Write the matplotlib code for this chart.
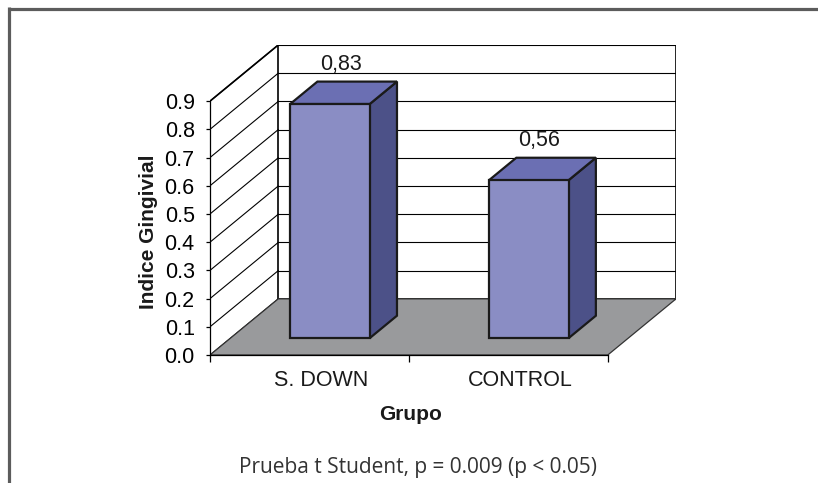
import matplotlib
matplotlib.use("Agg")
import matplotlib.pyplot as plt
from matplotlib.patches import Polygon
from matplotlib.lines import Line2D
import numpy as np

# ---- data ----
categories = ["S. DOWN", "CONTROL"]
values = [0.83, 0.56]
value_labels = ["0,83", "0,56"]
yticks = [0.0, 0.1, 0.2, 0.3, 0.4, 0.5, 0.6, 0.7, 0.8, 0.9]
ytick_labels = ["0.0", "0.1", "0.2", "0.3", "0.4", "0.5", "0.6", "0.7", "0.8", "0.9"]
ylabel = "Indice Gingivial"
xlabel = "Grupo"
footer = "Prueba t Student, p = 0.009 (p < 0.05)"

# ---- style ----
FONT = "Liberation Sans"
C_FRONT = "#8a8dc4"
C_TOP = "#6b6fb3"
C_SIDE = "#4c5188"
C_FLOOR = "#999a9c"
DX, DY = 0.343, 0.199      # depth offset in data units
F0, F1 = 0.30, 0.70        # bar depth span (fraction of depth)
BW = 0.40                  # bar width (category units)

W, H = 818, 483
fig = plt.figure(figsize=(W / 100, H / 100), dpi=100)
fig.patch.set_facecolor("white")

ymax = yticks[-1]
n = len(categories)
ax = fig.add_axes([210 / W, (H - 355) / H, 466 / W, 310 / H])
ax.set_xlim(0, n + DX)
ax.set_ylim(0, ymax + DY)
ax.set_facecolor("none")

for s in ["top", "right"]:
    ax.spines[s].set_visible(False)
ax.spines["left"].set_bounds(0, ymax)
ax.spines["bottom"].set_bounds(0, n)
for s in ["left", "bottom"]:
    ax.spines[s].set_linewidth(0.9)
    ax.spines[s].set_color("black")

ax.set_yticks(yticks)
ax.set_yticklabels(ytick_labels, fontfamily=FONT, fontsize=15.5)
ax.set_xticks(np.arange(n + 1))
ax.set_xticklabels([])
ax.tick_params(axis="y", length=3, width=0.9, pad=8, direction="out")
ax.tick_params(axis="x", length=5, width=0.9, direction="out")

# back wall
back = Polygon([(DX, DY), (n + DX, DY), (n + DX, ymax + DY), (DX, ymax + DY)],
               closed=True, facecolor="white", edgecolor="black", lw=1.2, zorder=1)
ax.add_patch(back)
for v in yticks:
    ax.plot([DX, n + DX], [v + DY, v + DY], color="black", lw=0.8, zorder=1.1)
    ax.plot([0, DX], [v, v + DY], color="black", lw=0.8, zorder=1.1)
ax.plot([0, DX], [ymax, ymax + DY], color="black", lw=1.2, zorder=1.1)

# floor
floor = Polygon([(0, 0), (DX, DY), (n + DX, DY), (n, 0)], closed=True,
                facecolor=C_FLOOR, edgecolor="#333333", lw=0.9, zorder=2)
ax.add_patch(floor)

# bars
for i, (v, lab) in enumerate(zip(values, value_labels)):
    c = i + 0.5
    xl0, xr0 = c - BW / 2 + F0 * DX, c + BW / 2 + F0 * DX
    xl1, xr1 = c - BW / 2 + F1 * DX, c + BW / 2 + F1 * DX
    y0, y1 = F0 * DY, F1 * DY
    kw = dict(closed=True, edgecolor="#1a1a1a", lw=1.6, joinstyle="miter", zorder=3)
    ax.add_patch(Polygon([(xr0, y0), (xr1, y1), (xr1, v + y1), (xr0, v + y0)], facecolor=C_SIDE, **kw))
    ax.add_patch(Polygon([(xl0, v + y0), (xr0, v + y0), (xr1, v + y1), (xl1, v + y1)], facecolor=C_TOP, **kw))
    ax.add_patch(Polygon([(xl0, y0), (xr0, y0), (xr0, v + y0), (xl0, v + y0)], facecolor=C_FRONT, **kw))
    ax.annotate(lab, xy=(c + 0.5 * DX - 0.015, v + y1), xytext=(0, 5), textcoords="offset points",
                ha="center", va="bottom", fontfamily=FONT, fontsize=15.5, color="#1a1a1a")
    ax.annotate(categories[i], xy=(c + 0.06, 0), xycoords=("data", "axes fraction"),
                xytext=(0, -18), textcoords="offset points", ha="center", va="center",
                fontfamily=FONT, fontsize=15.5, color="#1a1a1a")

# labels
fig.text(149 / W, 1 - 232 / H, ylabel, rotation=90, ha="center", va="center",
         fontfamily=FONT, fontsize=15, fontweight="bold", color="#1a1a1a")
fig.text(411 / W, 1 - 415 / H, xlabel, ha="center", va="center",
         fontfamily=FONT, fontsize=15, fontweight="bold", color="#1a1a1a")
fig.text(418 / W, 1 - 468 / H, footer, ha="center", va="center",
         fontfamily="Open Sans", fontsize=15, color="#333333")

# frame
fig.add_artist(Line2D([8.5 / W, 1.0], [1 - 8.5 / H, 1 - 8.5 / H], transform=fig.transFigure,
                      color="#5c5c5c", lw=2.3, solid_capstyle="butt"))
fig.add_artist(Line2D([8.5 / W, 8.5 / W], [1 - 8.5 / H + 1.1 / H, 0.0], transform=fig.transFigure,
                      color="#5c5c5c", lw=2.3, solid_capstyle="butt"))

fig.savefig("out.png", dpi=100)
